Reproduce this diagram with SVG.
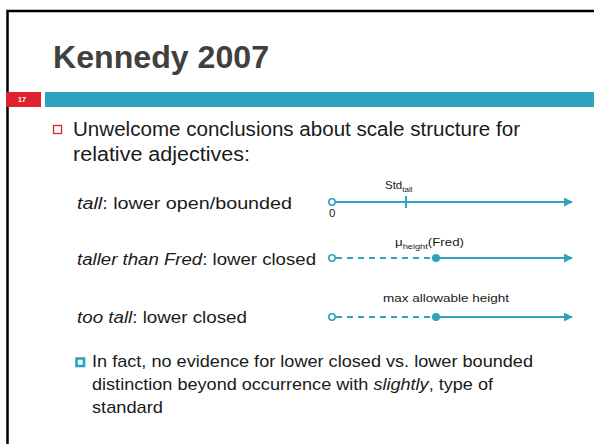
<svg xmlns="http://www.w3.org/2000/svg" width="594" height="444" viewBox="0 0 594 444">
  <style>
    .body { font-family: "Liberation Sans", "DejaVu Sans", sans-serif; fill: #1a1a1a; }
    .title { font-family: "Liberation Sans", sans-serif; font-weight: bold; font-size: 32px; fill: #404040; }
    .row { font-size: 16px; }
    .lbl { font-family: "Liberation Sans", sans-serif; font-size: 11.5px; fill: #1a1a1a; }
    .sub { font-size: 8px; }
    .axis { stroke: #2ea2bf; stroke-width: 2; fill: none; }
    .dash { stroke: #2ea2bf; stroke-width: 2; stroke-dasharray: 6 5; fill: none; }
    .open { fill: #ffffff; stroke: #2ea2bf; stroke-width: 1.6; }
    .dot { fill: #2ea2bf; }
  </style>
  <defs>
    <marker id="arrow" viewBox="0 0 10 10" refX="9" refY="5" markerWidth="4.5" markerHeight="4.5" orient="auto" markerUnits="strokeWidth">
      <path d="M0,0 L10,5 L0,10 z" fill="#2ea2bf"/>
    </marker>
  </defs>

  <rect width="594" height="444" fill="#ffffff"/>
  <!-- slide frame -->
  <rect x="7.5" y="11" width="600" height="450" fill="none" stroke="#000000" stroke-width="2.5"/>

  <!-- title -->
  <text class="title" x="53" y="68" textLength="216" lengthAdjust="spacingAndGlyphs">Kennedy 2007</text>

  <!-- header band with slide number -->
  <rect x="6" y="92" width="35" height="15" fill="#dd2230"/>
  <text x="18" y="102" font-family="Liberation Sans, sans-serif" font-size="7" font-weight="bold" fill="#ffffff">17</text>
  <rect x="45" y="92" width="549" height="15" fill="#2ea2bf"/>

  <!-- main bullet -->
  <rect x="53.5" y="125.5" width="8" height="8" fill="none" stroke="#dd2230" stroke-width="1.3"/>
  <text class="body" x="73" y="135.5" font-size="19.5" textLength="447" lengthAdjust="spacingAndGlyphs">Unwelcome conclusions about scale structure for</text>
  <text class="body" x="73" y="160.5" font-size="19.5" textLength="177" lengthAdjust="spacingAndGlyphs">relative adjectives:</text>

  <!-- row labels -->
  <g id="row-tall">
    <text class="body row" x="77" y="209" textLength="215" lengthAdjust="spacingAndGlyphs"><tspan font-style="italic">tall</tspan>: lower open/bounded</text>
  </g>
  <g id="row-taller">
    <text class="body row" x="77" y="265" textLength="239" lengthAdjust="spacingAndGlyphs"><tspan font-style="italic">taller than Fred</tspan>: lower closed</text>
  </g>
  <g id="row-too">
    <text class="body row" x="77" y="323" textLength="170" lengthAdjust="spacingAndGlyphs"><tspan font-style="italic">too tall</tspan>: lower closed</text>
  </g>

  <!-- scales -->
  <g id="connectors">
    <line class="axis" x1="335" y1="202" x2="572" y2="202" marker-end="url(#arrow)"/>
    <line class="axis" x1="406" y1="196" x2="406" y2="208"/>

    <line class="dash" x1="336" y1="258" x2="436" y2="258"/>
    <line class="axis" x1="436" y1="258" x2="572" y2="258" marker-end="url(#arrow)"/>

    <line class="dash" x1="336" y1="317" x2="436" y2="317"/>
    <line class="axis" x1="436" y1="317" x2="572" y2="317" marker-end="url(#arrow)"/>
  </g>

  <g id="scale-tall">
    <circle class="open" cx="332" cy="202" r="3.2"/>
    <text class="lbl" x="385" y="189" font-size="12">Std<tspan class="sub" dy="3">tall</tspan></text>
    <text class="lbl" x="329" y="217">0</text>
  </g>
  <g id="scale-taller">
    <circle class="open" cx="332" cy="258" r="3.2"/>
    <circle class="dot" cx="436" cy="258" r="4"/>
    <text class="lbl" x="395" y="246" font-size="12" textLength="69" lengthAdjust="spacingAndGlyphs">μ<tspan class="sub" dy="3">height</tspan><tspan dy="-3">(Fred)</tspan></text>
  </g>
  <g id="scale-too">
    <circle class="open" cx="332" cy="317" r="3.2"/>
    <circle class="dot" cx="436" cy="317" r="4"/>
    <text class="lbl" x="383" y="302" textLength="126" lengthAdjust="spacingAndGlyphs">max allowable height</text>
  </g>

  <!-- sub-bullet -->
  <rect x="76.5" y="358.5" width="7.5" height="7.5" fill="none" stroke="#2ea2bf" stroke-width="2.6"/>
  <text class="body" x="92" y="367" font-size="17" textLength="441" lengthAdjust="spacingAndGlyphs">In fact, no evidence for lower closed vs. lower bounded</text>
  <text class="body" x="92" y="390" font-size="17" textLength="401" lengthAdjust="spacingAndGlyphs">distinction beyond occurrence with <tspan font-style="italic">slightly</tspan>, type of</text>
  <text class="body" x="92" y="413" font-size="17" textLength="71" lengthAdjust="spacingAndGlyphs">standard</text>
</svg>
